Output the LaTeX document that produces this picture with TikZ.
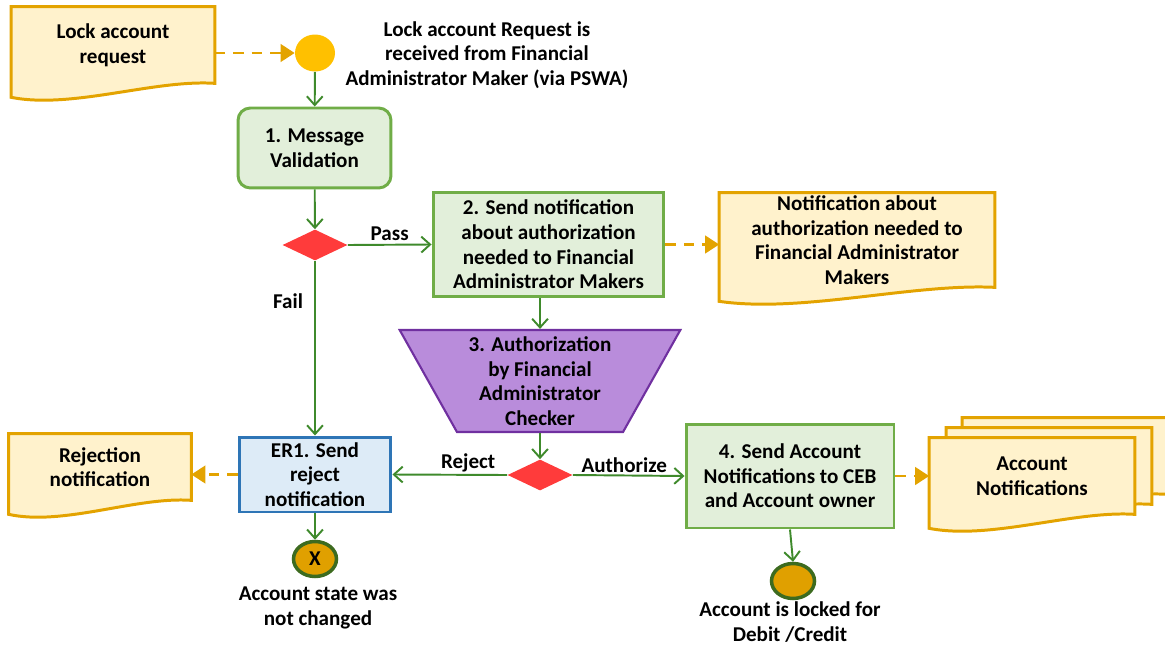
\documentclass[tikz,border=0pt]{standalone}
\usepackage{fontspec}
\setmainfont{Carlito}
\usetikzlibrary{arrows.meta, positioning, shapes.geometric, calc, backgrounds}
\definecolor{docLine}{HTML}{E3A300}
\definecolor{docFill}{HTML}{FFF2CC}
\definecolor{stepLine}{HTML}{70AD47}
\definecolor{stepFill}{HTML}{E2EFDA}
\definecolor{flowGreen}{HTML}{3F8A2C}
\definecolor{gateRed}{HTML}{FF3B3B}
\definecolor{authFill}{HTML}{B98CDB}
\definecolor{authLine}{HTML}{7030A0}
\definecolor{errLine}{HTML}{2E75B6}
\definecolor{errFill}{HTML}{DDEBF7}
\definecolor{startGold}{HTML}{FFC000}
\definecolor{endGold}{HTML}{E0A000}
\definecolor{endRing}{HTML}{3D6B1F}

% document sheet with a wavy lower edge, drawn round a node
\newcommand{\docshape}[1]{%
  \filldraw[docline] (#1.north west) -- (#1.north east) -- (#1.south east)
    .. controls ($(#1.south east)!0.3!(#1.south west)+(0,-4)$)
    and ($(#1.south east)!0.7!(#1.south west)+(0,26)$)
    .. ($(#1.south west)+(0,14)$) -- cycle;}

\begin{document}
\begin{tikzpicture}[x=0.02cm, y=-0.02cm,
    every node/.style={font=\fontsize{12}{14}\selectfont\bfseries, align=center},
    docbody/.style={inner sep=0pt},
    docline/.style={draw=docLine, fill=docFill, line width=1.7pt},
    stepbox/.style={draw=stepLine, fill=stepFill, line width=1.7pt, inner sep=1pt},
    errbox/.style={draw=errLine, fill=errFill, line width=1.7pt, inner sep=1pt},
    gate/.style={diamond, fill=gateRed, minimum width=1.3cm, minimum height=0.62cm, inner sep=0pt},
    endev/.style={ellipse, fill=endGold, draw=endRing, line width=2pt,
      minimum width=0.86cm, minimum height=0.7cm, inner sep=0pt},
    flow/.style={draw=flowGreen, line width=1.1pt, -{Straight Barb[length=5pt,width=9pt]}},
    dataflow/.style={draw=docLine, line width=1.5pt, dash pattern=on 6pt off 4.5pt,
      -{Triangle[length=8pt,width=10pt]}},
    cond/.style={above, inner sep=1pt}]
  \useasboundingbox (0,0) rectangle (1165,645);
  \clip (0,0) rectangle (1165,645);

  % documents
  \node[docbody, minimum width=4.06cm, minimum height=1.52cm] (lockdoc) at (113,45) {Lock account\\request};
  \node[docbody, minimum width=5.5cm, minimum height=1.88cm] (authdoc) at (857,240)
    {Notification about\\authorization needed to\\Financial Administrator\\Makers};
  \node[docbody, minimum width=3.64cm, minimum height=1.32cm] (rejdoc) at (100,467) {Rejection\\notification};
  \node[docbody, minimum width=4.1cm, minimum height=1.52cm] (accback) at (1065,456) {};
  \node[docbody, minimum width=4.1cm, minimum height=1.52cm] (accmid) at (1049,466) {};
  \node[docbody, minimum width=4.1cm, minimum height=1.52cm] (accdoc) at (1032,476) {Account\\Notifications};

  % flow
  \node[ellipse, fill=startGold, minimum width=0.8cm, minimum height=0.74cm, inner sep=0pt] (start) at (315,53) {};
  \node (starttxt) at (487,55) {Lock account Request is\\received from Financial\\Administrator Maker (via PSWA)};
  \node[stepbox, rounded corners=7pt, minimum width=3.06cm, minimum height=1.6cm] (valid) at (314.5,148) {1. Message\\Validation};
  \node[gate] (passgate) at (315,245) {};
  \node[stepbox, minimum width=4.62cm, minimum height=2.1cm] (notify) at (548.5,244.5)
    {2. Send notification\\about authorization\\needed to Financial\\Administrator Makers};
  \node[trapezium, shape border rotate=180, trapezium stretches=true, trapezium angle=61,
    minimum width=5.62cm, minimum height=2.04cm, inner sep=0pt,
    fill=authFill, draw=authLine, line width=1.2pt] (authchk) at (540,381)
    {3. Authorization\\by Financial\\Administrator\\Checker};
  \node[gate] (authgate) at (540,475) {};
  \node[errbox, minimum width=3.04cm, minimum height=1.5cm] (reject) at (315,474.5) {ER1. Send\\reject\\notification};
  \node[stepbox, minimum width=4.16cm, minimum height=2.08cm] (sendacc) at (790,476)
    {4. Send Account\\Notifications to CEB\\and Account owner};
  \node[endev] (endrej) at (315,559) {X};
  \node (endrejtxt) at (318,608) {Account state was\\not changed};
  \node[endev] (endok) at (793,581) {};
  \node (endoktxt) at (790,622) {Account is locked for\\Debit /Credit};

  \begin{scope}[on background layer]
    \foreach \d in {lockdoc, authdoc, rejdoc, accback, accmid, accdoc} {\docshape{\d}}
  \end{scope}

  \draw[dataflow] (lockdoc.east |- start) -- (start.west);
  \draw[flow] (start) -- (valid);
  \draw[flow] (valid) -- (passgate);
  \draw[flow] (passgate.east) -- node[cond, inner sep=2pt] {Pass} (notify.west);
  \draw[flow] (passgate.south) -- node[pos=0.23, left=3pt] {Fail} (reject.north);
  \draw[dataflow] (notify.east) -- (notify.east -| authdoc.west);
  \draw[flow] (notify.south -| authchk.north) -- (authchk.north);
  \draw[flow] (authchk.south) -- (authgate.north);
  \draw[flow] (authgate.west) -- node[cond, pos=0.34] {Reject} (reject.east);
  \draw[flow] (authgate.east) -- node[cond, pos=0.46] {Authorize} (sendacc.west);
  \draw[dataflow] (reject.west) -- (reject.west -| rejdoc.east);
  \draw[dataflow] (sendacc.east) -- (sendacc.east -| accdoc.west);
  \draw[flow] (reject.south) -- (endrej.north);
  \draw[flow] (sendacc.south) -- (endok.north);
\end{tikzpicture}
\end{document}
